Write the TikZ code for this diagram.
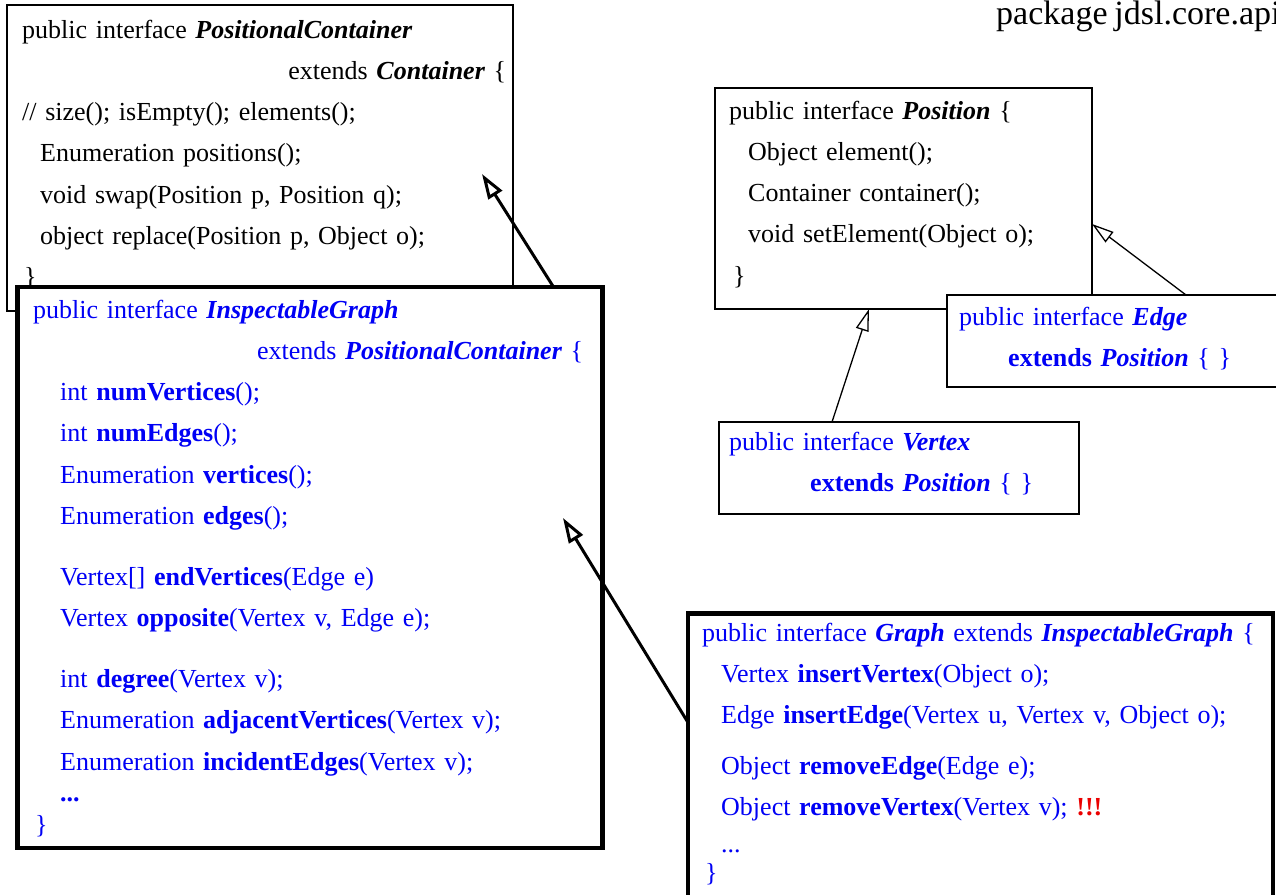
\documentclass[tikz,border=0pt]{standalone}
\usepackage{fontspec}
\setmainfont{Liberation Serif}[WordSpace=0.8]
\usetikzlibrary{arrows.meta}

\definecolor{apiblue}{RGB}{0,0,245}
\definecolor{warnred}{RGB}{235,0,0}
\newcommand{\iname}[1]{\textbf{\textit{#1}}}

\tikzset{
  thinbox/.style={draw, fill=white, line width=1.2pt, inner sep=0pt, outer sep=0pt, anchor=north west},
  thickbox/.style={thinbox, line width=4.5pt},
  code/.style={anchor=base west, inner sep=0pt, align=left, font=\fontsize{26}{41.3}\selectfont},
  inherit/.style={line width=1.3pt, -{Triangle[open, length=22pt, width=13pt]}},
  inheritbold/.style={line width=3pt, -{Triangle[open, length=25pt, width=16pt]}},
}

\begin{document}
\begin{tikzpicture}[x=1pt, y=-1pt]
  \useasboundingbox (0,0) rectangle (1276,894);

  % container side
  \node[thinbox, minimum width=506, minimum height=306] (pcont) at (7,5) {};
  \node[code, text width=484] (pcont-txt) at (22,38) {%
    public interface \iname{PositionalContainer}\\
    \hspace*{\fill}extends \iname{Container} \{\\
    // size(); isEmpty(); elements();\\
    \hspace*{18pt}Enumeration positions();\\
    \hspace*{18pt}void swap(Position p, Position q);\\
    \hspace*{18pt}object replace(Position p, Object o);\\
    \hspace*{2pt}\}};

  \node[thickbox, minimum width=585, minimum height=561] (igraph) at (17.5,287) {};
  \node[code, text width=550, text=apiblue] (igraph-txt) at (33,318) {%
    public interface \iname{InspectableGraph}\\
    \hspace*{\fill}extends \iname{PositionalContainer} \{\\
    \hspace*{27pt}int \textbf{numVertices}();\\
    \hspace*{27pt}int \textbf{numEdges}();\\
    \hspace*{27pt}Enumeration \textbf{vertices}();\\
    \hspace*{27pt}Enumeration \textbf{edges}();\\[19.5pt]
    \hspace*{27pt}Vertex[] \textbf{endVertices}(Edge e)\\
    \hspace*{27pt}Vertex \textbf{opposite}(Vertex v, Edge e);\\[19.5pt]
    \hspace*{27pt}int \textbf{degree}(Vertex v);\\
    \hspace*{27pt}Enumeration \textbf{adjacentVertices}(Vertex v);\\
    \hspace*{27pt}Enumeration \textbf{incidentEdges}(Vertex v);\\[-10pt]
    \hspace*{27pt}\textbf{...}\\[-9pt]
    \hspace*{2pt}\}};

  \coordinate (pcont-in) at (482,174);
  \draw[inheritbold] ([xshift=536pt]igraph.north west) -- (pcont-in);

  % position side
  \node[thinbox, minimum width=377, minimum height=221] (pos) at (715,88) {};
  \node[code, text width=350] (pos-txt) at (729,119) {%
    public interface \iname{Position} \{\\
    \hspace*{19pt}Object element();\\
    \hspace*{19pt}Container container();\\
    \hspace*{19pt}void setElement(Object o);\\
    \hspace*{4pt}\}};

  \node[thinbox, minimum width=345, minimum height=92] (edge) at (947,295) {};
  \node[code, text width=310, text=apiblue] (edge-txt) at (959,325) {%
    public interface \iname{Edge}\\
    \hspace*{49pt}\textbf{extends} \iname{Position} \{ \}};

  \node[thinbox, minimum width=360, minimum height=92] (vert) at (719,422) {};
  \node[code, text width=340, text=apiblue] (vert-txt) at (729,450) {%
    public interface \iname{Vertex}\\
    \hspace*{81pt}\textbf{extends} \iname{Position} \{ \}};

  \draw[inherit] ([xshift=113pt]vert.north west) -- ([xshift=154pt]pos.south west);
  \draw[inherit] ([xshift=239pt]edge.north west) -- ([yshift=-25.5pt]pos.east);

  % graph
  \node[thickbox, minimum width=585, minimum height=300] (graph) at (688,613.5) {};
  \node[code, text width=560, text=apiblue] (graph-txt) at (702,641) {%
    public interface \iname{Graph} extends \iname{InspectableGraph} \{\\
    \hspace*{19pt}Vertex \textbf{insertVertex}(Object o);\\
    \hspace*{19pt}Edge \textbf{insertEdge}(Vertex u, Vertex v, Object o);\\[9.5pt]
    \hspace*{19pt}Object \textbf{removeEdge}(Edge e);\\
    \hspace*{19pt}Object \textbf{removeVertex}(Vertex v); \textcolor{warnred}{\textbf{!!!}}\\[-5pt]
    \hspace*{19pt}...\\[-12pt]
    \hspace*{3pt}\}};

  \coordinate (igraph-in) at (563,518);
  \draw[inheritbold] ([yshift=-109pt]graph.north west) -- (igraph-in);

  \node[anchor=base west, inner sep=0pt, font=\fontsize{34}{40}\selectfont] (pkg) at (996,24) {package jdsl.core.api};
\end{tikzpicture}
\end{document}
